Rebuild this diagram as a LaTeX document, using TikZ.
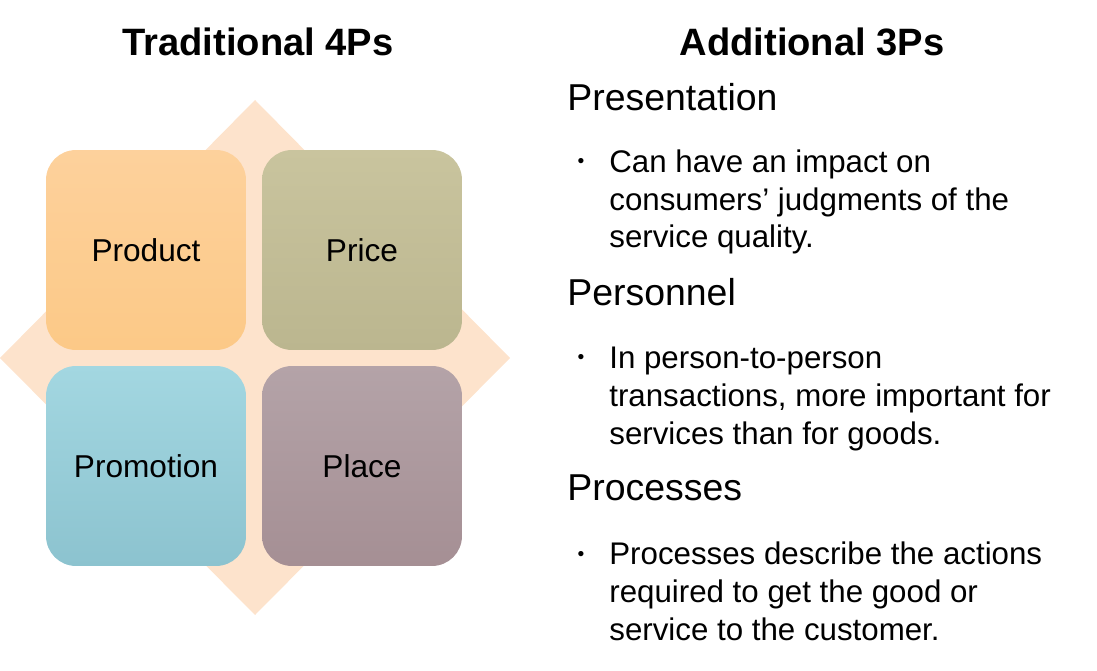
\documentclass[tikz,border=0pt]{standalone}
\usepackage{fontspec}
\setmainfont{Liberation Sans}
\definecolor{diamondc}{HTML}{FDE3CC}
\definecolor{prodtop}{HTML}{FDD19C}\definecolor{prodbot}{HTML}{FCC987}
\definecolor{pricetop}{HTML}{C9C49E}\definecolor{pricebot}{HTML}{BBB68F}
\definecolor{promotop}{HTML}{A3D7E1}\definecolor{promobot}{HTML}{8CC3CF}
\definecolor{placetop}{HTML}{B4A3A8}\definecolor{placebot}{HTML}{A58F94}
\begin{document}
\begin{tikzpicture}[x=0.02cm,y=-0.02cm,
    pbox/.style={rounded corners=0.6cm,minimum width=4cm,minimum height=4cm,font=\fontsize{18}{22}\selectfont},
    ptitle/.style={font=\fontsize{21.7}{26}\selectfont\bfseries},
    phead/.style={anchor=west,inner sep=0pt,font=\fontsize{21.3}{25}\selectfont},
    pitem/.style={anchor=base west,inner sep=0pt,align=left,font=\fontsize{17.8}{21.5}\selectfont},
    pdot/.style={anchor=base,inner sep=0pt,font=\fontsize{11}{13}\selectfont}]
    \useasboundingbox (0,0) rectangle (1097,671);
    \fill[diamondc] (255,100) coordinate (dtop) -- (510,358) -- (255,615) -- (0,358) -- cycle;

    \node[pbox,top color=prodtop,bottom color=prodbot] (product) at (146,250) {Product};
    \node[pbox,top color=pricetop,bottom color=pricebot] (price) at (362,250) {Price};
    \node[pbox,top color=promotop,bottom color=promobot] (promotion) at (146,466) {Promotion};
    \node[pbox,top color=placetop,bottom color=placebot] (place) at (362,466) {Place};

    \node[ptitle] (trad) at (258,42) {Traditional 4Ps};
    \node[ptitle] (addl) at (812,42) {Additional 3Ps};

    \node[phead] (presentation) at (567,97) {Presentation};
    \node[pitem] (presitem) at (609,248) {Can have an impact on\\consumers’ judgments of the\\service quality.};
    \node[pdot] at (581,168) {•};

    \node[phead] (personnel) at (567,292) {Personnel};
    \node[pitem] (persitem) at (609,444) {In person-to-person\\transactions, more important for\\services than for goods.};
    \node[pdot] at (581,364) {•};

    \node[phead] (processes) at (567,488) {Processes};
    \node[pitem] (procitem) at (609,640) {Processes describe the actions\\required to get the good or\\service to the customer.};
    \node[pdot] at (581,560) {•};
\end{tikzpicture}
\end{document}
